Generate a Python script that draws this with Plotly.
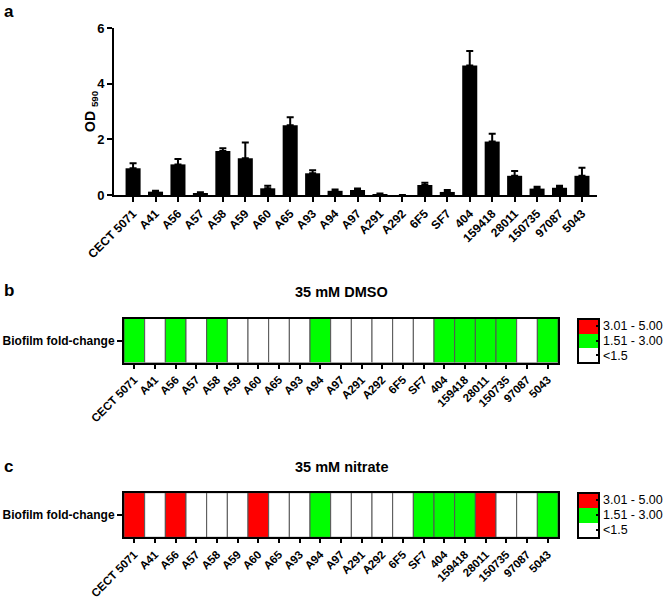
import plotly.graph_objects as go

strains = ["CECT 5071", "A41", "A56", "A57", "A58", "A59", "A60", "A65", "A93", "A94",
           "A97", "A291", "A292", "6F5", "SF7", "404", "159418", "28011", "150735", "97087", "5043"]
od590 = [0.96, 0.12, 1.10, 0.07, 1.58, 1.32, 0.24, 2.51, 0.78, 0.15,
         0.18, 0.03, 0.0, 0.36, 0.11, 4.65, 1.92, 0.69, 0.23, 0.26, 0.69]
od590_err = [0.18, 0.03, 0.19, 0.03, 0.10, 0.57, 0.09, 0.28, 0.11, 0.05,
             0.05, 0.02, 0.0, 0.08, 0.07, 0.52, 0.28, 0.17, 0.07, 0.07, 0.29]
# fold-change class: 0 = <1.5, 1 = 1.51-3.00, 2 = 3.01-5.00
dmso_class = [1, 0, 1, 0, 1, 0, 0, 0, 0, 1, 0, 0, 0, 0, 0, 1, 1, 1, 1, 0, 1]
nitrate_class = [2, 0, 2, 0, 0, 0, 2, 0, 0, 1, 0, 0, 0, 0, 1, 1, 1, 2, 0, 0, 1]
class_labels = ["<1.5", "1.51 - 3.00", "3.01 - 5.00"]
y_ticks_a = [0, 2, 4, 6]

W, H = 672, 599
FONT = "Liberation Sans, Arial, sans-serif"

def px_x(p):
    return p / W

def px_y(p):
    return 1 - p / H

colorscale = [[0, "#ffffff"], [1/3, "#ffffff"], [1/3, "#00ff00"], [2/3, "#00ff00"],
              [2/3, "#ff0000"], [1, "#ff0000"]]

fig = go.Figure()

fig.add_trace(go.Bar(
    x=strains, y=od590, width=0.67,
    marker=dict(color="black", line=dict(width=0)),
    error_y=dict(type="data", symmetric=False, array=od590_err,
                 arrayminus=[0] * len(od590_err), color="black", thickness=2, width=3.5),
    xaxis="x", yaxis="y", showlegend=False,
))

def heat_trace(classes, xa, ya, cb_top, cb_bot):
    return go.Bar(
        x=strains, y=[1] * len(strains), width=1,
        marker=dict(color=classes, colorscale=colorscale, cmin=-0.5, cmax=2.5,
                    line=dict(color="#555555", width=1), showscale=True,
                    colorbar=dict(x=px_x(577.5), xanchor="left", xpad=0, ypad=0,
                                  y=px_y((cb_top + cb_bot) / 2), yanchor="middle",
                                  lenmode="pixels", len=cb_bot - cb_top,
                                  thickness=21, outlinewidth=2, outlinecolor="black",
                                  tickvals=[0, 1, 2], ticktext=class_labels,
                                  ticks="inside", ticklen=4, tickwidth=2, tickcolor="black",
                                  tickfont=dict(size=12.5, family=FONT, color="black"))),
        xaxis=xa, yaxis=ya, showlegend=False, hoverinfo="x",
    )

fig.add_trace(heat_trace(dmso_class, "x2", "y2", 318.5, 362.5))
fig.add_trace(heat_trace(nitrate_class, "x3", "y3", 492.7, 537.3))

tickfont = dict(size=12, family=FONT, color="black", weight="bold")
heat_tickfont = dict(size=11.5, family=FONT, color="black", weight="bold")
common_x = dict(type="category", categoryorder="array", categoryarray=strains,
                showline=True, linewidth=2, linecolor="black",
                ticks="outside", tickwidth=2, tickcolor="black",
                tickangle=-45, showgrid=False, zeroline=False,
                automargin=False)
common_heat_y = dict(range=[0, 1], tickvals=[0.5], ticktext=["Biofilm fold-change"],
                     showline=True, mirror=True, linewidth=2, linecolor="black",
                     ticks="outside", ticklen=5, tickwidth=2, tickcolor="black",
                     tickfont=dict(size=12, family=FONT, color="black", weight="bold"),
                     showgrid=False, zeroline=False, automargin=False)

fig.update_layout(
    width=W, height=H, margin=dict(l=0, r=0, t=0, b=0, autoexpand=False),
    paper_bgcolor="white", plot_bgcolor="rgba(0,0,0,0)",
    font=dict(family=FONT, color="black"),
    xaxis=dict(domain=[px_x(114), px_x(597)], anchor="y", range=[-0.85, 20.67],
               ticklen=5, tickfont=tickfont, **common_x),
    yaxis=dict(domain=[px_y(195), px_y(28)], anchor="x", range=[0, 6],
               tickvals=y_ticks_a, showline=True, linewidth=2, linecolor="black",
               ticks="outside", ticklen=5, tickwidth=2, tickcolor="black",
               tickfont=dict(size=13, family=FONT, color="black", weight="bold"),
               showgrid=False, zeroline=False, automargin=False),
    xaxis2=dict(domain=[px_x(124), px_x(558)], anchor="y2", range=[-0.5, 20.5], mirror=True,
                ticklen=4, tickfont=heat_tickfont, **common_x),
    yaxis2=dict(domain=[px_y(362.5), px_y(318.5)], anchor="x2", **common_heat_y),
    xaxis3=dict(domain=[px_x(124), px_x(558)], anchor="y3", range=[-0.5, 20.5], mirror=True,
                ticklen=4, tickfont=heat_tickfont, **common_x),
    yaxis3=dict(domain=[px_y(537.3), px_y(492.7)], anchor="x3", **common_heat_y),
)

label_font = dict(size=17, family=FONT, color="black", weight="bold")
title_font = dict(size=14.5, family=FONT, color="black", weight="bold")
annotations = [
    dict(text="a", x=px_x(2), y=px_y(0), xanchor="left", yanchor="top", font=label_font),
    dict(text="b", x=px_x(2), y=px_y(290), xanchor="left", yanchor="middle", font=label_font),
    dict(text="c", x=px_x(2), y=px_y(466), xanchor="left", yanchor="middle", font=label_font),
    dict(text="35 mM DMSO", x=px_x(341), y=px_y(292), xanchor="center", yanchor="middle", font=title_font),
    dict(text="35 mM nitrate", x=px_x(341), y=px_y(467), xanchor="center", yanchor="middle", font=title_font),
    dict(text="OD <sub>590</sub>", x=px_x(91), y=px_y(111), xanchor="center", yanchor="middle",
         textangle=-90, font=dict(size=14, family=FONT, color="black", weight="bold")),
]
for a in annotations:
    a.update(xref="paper", yref="paper", showarrow=False)
fig.update_layout(annotations=annotations)

fig.write_html("out.html", config={"displayModeBar": False},
               post_script="document.body.style.margin='0';document.body.style.overflow='hidden';")
